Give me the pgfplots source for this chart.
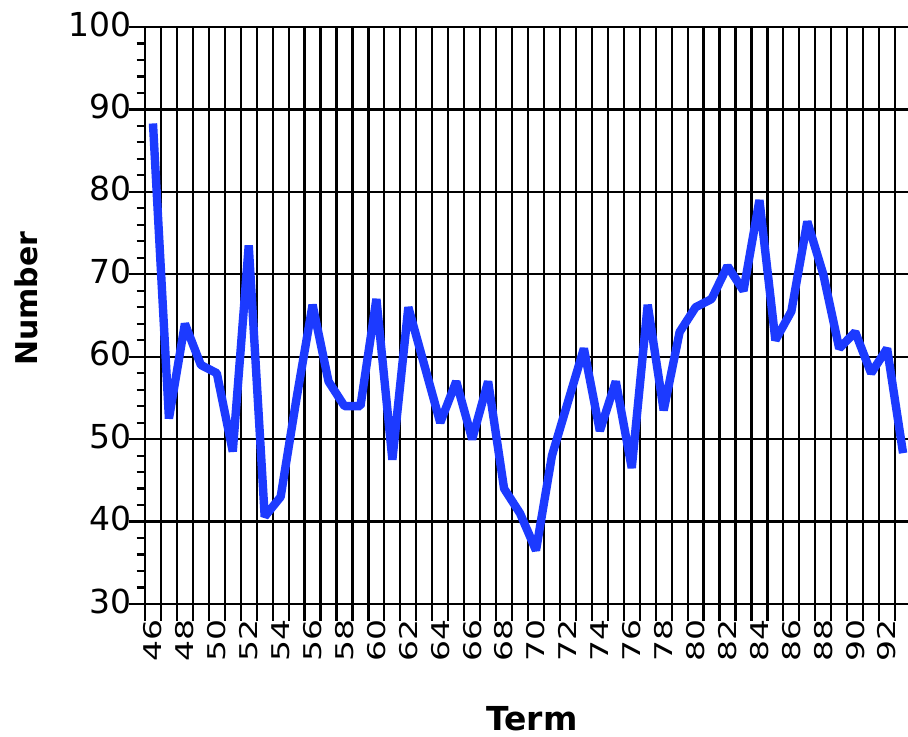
\documentclass[border=0pt]{standalone}
\usepackage{fontspec}
\setmainfont{DejaVu Sans}
\usepackage{pgfplots}
\pgfplotsset{compat=1.18}
\definecolor{lineblue}{RGB}{28,58,255}

\begin{document}
\begin{tikzpicture}
% 1px of the reference = 0.5pt
\path[use as bounding box] (-72.5pt,-66.5pt) rectangle (381.5pt,302pt);
\begin{axis}[
    scale only axis,
    width=381.5pt, height=288.5pt,
    xmin=45.5, xmax=93.31,
    ymin=30, ymax=100,
    axis lines*=left,
    axis line style={line width=1.1pt},
    tick align=outside,
    major tick length=8.25pt,
    minor tick length=4.25pt,
    every tick/.style={black, line width=1.1pt},
    xtick={45.5,46.5,47.5,48.5,49.5,50.5,51.5,52.5,53.5,54.5,55.5,56.5,
        57.5,58.5,59.5,60.5,61.5,62.5,63.5,64.5,65.5,66.5,67.5,68.5,69.5,
        70.5,71.5,72.5,73.5,74.5,75.5,76.5,77.5,78.5,79.5,80.5,81.5,82.5,
        83.5,84.5,85.5,86.5,87.5,88.5,89.5,90.5,91.5,92.5},
    xticklabels={},
    extra x ticks={46,48,50,52,54,56,58,60,62,64,66,68,70,72,74,76,78,80,82,84,86,88,90,92},
    extra x tick style={grid=none, major tick length=0pt,
        tick label style={yshift=-4pt, rotate=90, yscale=0.74, anchor=east}},
    ytick={30,40,...,100},
    minor ytick={32,34,...,98},
    grid=major,
    major grid style={black, line width=1.1pt},
    /pgf/number format/assume math mode=true,
    tick label style={font=\fontsize{16.5}{19}\selectfont},
    yticklabel style={inner sep=0pt, xshift=1.5pt, yshift=1.5pt},
    xlabel={Term},
    ylabel={Number},
    every axis x label/.style={at={(axis description cs:0.507,-0.198)}, anchor=center,
        font=\fontsize{16.5}{19}\selectfont\bfseries},
    every axis y label/.style={at={(axis description cs:-0.156,0.529)}, anchor=center,
        rotate=90, font=\fontsize{15}{18}\selectfont\bfseries},
]
\addplot[lineblue, line width=4.2pt, line join=bevel] coordinates {
    (46,88.3) (47,52.5) (48,64) (49,59) (50,58) (51,48.5) (52,73.5) (53,40.6)
    (54,43) (55,55) (56,66.3) (57,57) (58,54) (59,54) (60,67) (61,47.5)
    (62,66) (63,59) (64,52) (65,57) (66,50) (67,57) (68,44) (69,41)
    (70,36.5) (71,48) (72,54.5) (73,61) (74,51) (75,57) (76,46.5) (77,66.3)
    (78,53.5) (79,63) (80,66) (81,67) (82,71) (83,68) (84,79) (85,62)
    (86,65.5) (87,76.4) (88,70) (89,61) (90,63) (91,58) (92,61) (93,48.3)
};
\end{axis}
\end{tikzpicture}
\end{document}
